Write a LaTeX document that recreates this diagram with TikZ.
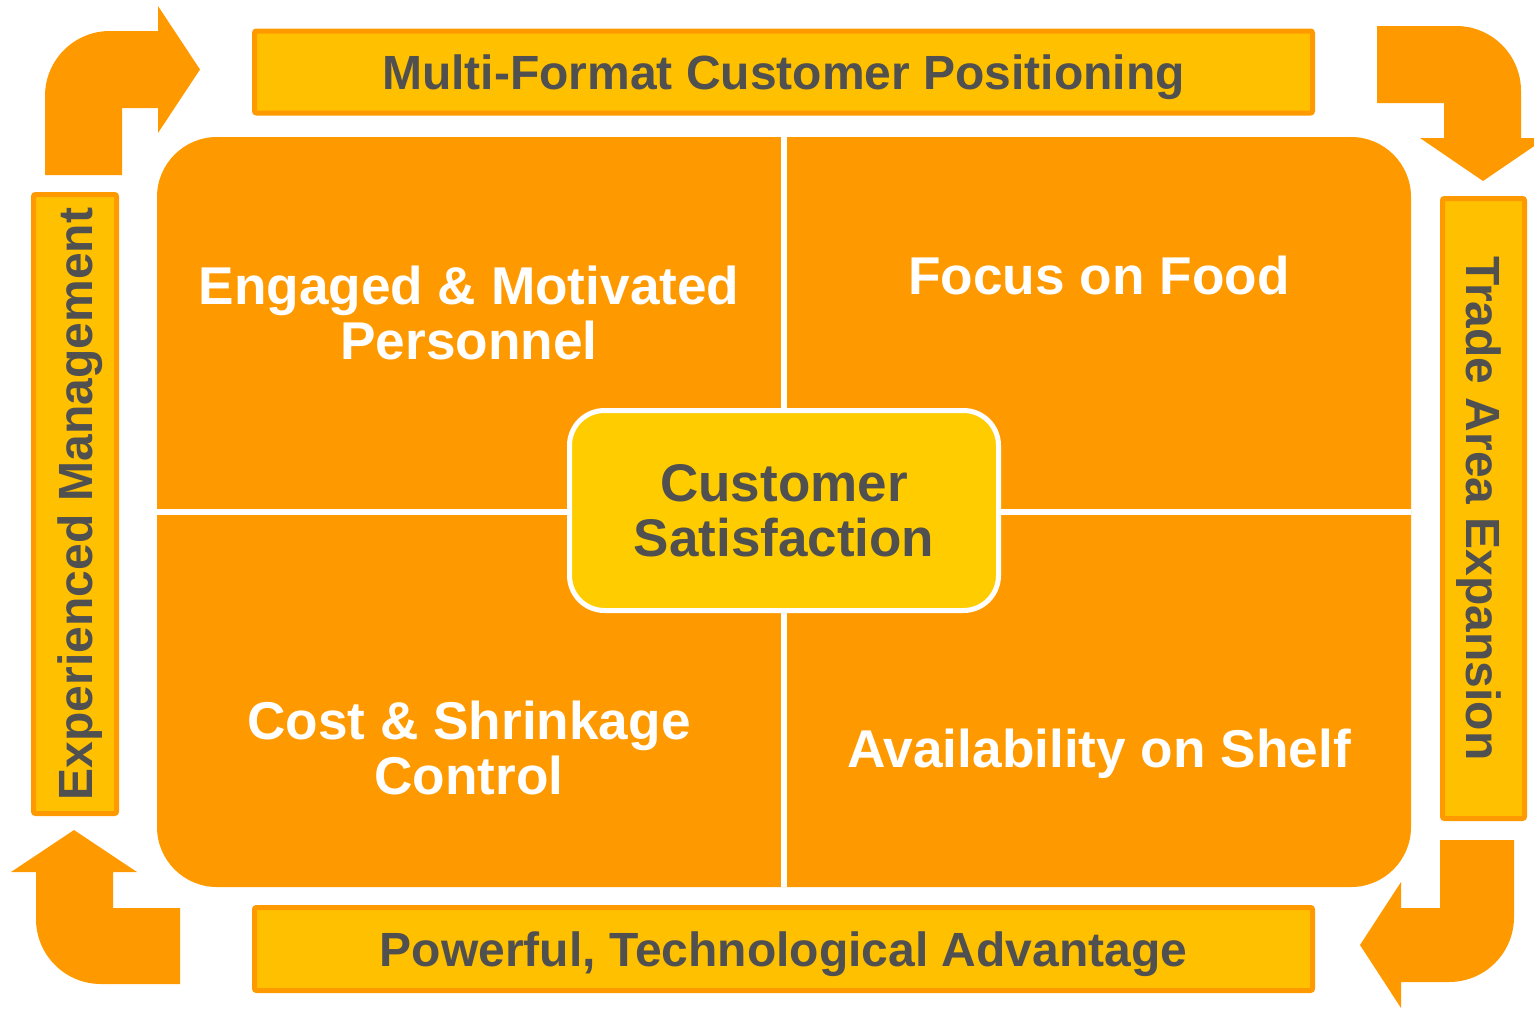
\documentclass[tikz,border=0pt]{standalone}
\usepackage{fontspec}
\setmainfont{Liberation Sans}
\definecolor{orangeA}{HTML}{FF9900}
\definecolor{gelbBanner}{HTML}{FFC000}
\definecolor{gelbMitte}{HTML}{FFCC00}
\definecolor{textgrau}{HTML}{505050}
\begin{document}
\begin{tikzpicture}[x=1pt, y=-1pt,
  banner/.style={fill=gelbBanner, draw=orangeA, line width=5pt, rounded corners=2pt,
    text=textgrau, font=\fontsize{48}{55}\selectfont\bfseries, text depth=0pt, inner sep=0pt},
  feld/.style={text=white, align=center, font=\fontsize{53.2}{55}\selectfont\bfseries},
  mitte/.style={fill=gelbMitte, draw=white, line width=5pt, rounded corners=35pt,
    text=textgrau, align=center, font=\fontsize{53}{55}\selectfont\bfseries,
    minimum width=429pt, minimum height=200pt},
  pfeil/.style={fill=orangeA}]
  % Rahmen
  \useasboundingbox (0,0) rectangle (1534,1009);
  % Eckpfeile
  \fill[pfeil] (45,175) -- (45,96) .. controls (45,60) and (74,31) .. (110,31) -- (158,31)
    -- (158,6) -- (200,69.5) -- (158,133) -- (158,108) -- (122,108) -- (122,175) -- cycle;
  \fill[pfeil] (1377,26) -- (1456,26) .. controls (1492,26) and (1521,55) .. (1521,91)
    -- (1521,138) -- (1546,138) -- (1483,181) -- (1420,138) -- (1444,138) -- (1444,103) -- (1377,103) -- cycle;
  \fill[pfeil] (180,984) -- (101,984) .. controls (65,984) and (36,955) .. (36,919)
    -- (36,872) -- (11,872) -- (74,830) -- (137,872) -- (113,872) -- (113,908) -- (180,908) -- cycle;
  \fill[pfeil] (1440,840) -- (1514,840) -- (1514,917) .. controls (1514,953) and (1485,982) .. (1449,982)
    -- (1401,982) -- (1401,1008) -- (1360,945) -- (1401,882) -- (1401,908) -- (1440,908) -- cycle;
  % Banner
  \node[banner, minimum width=1058pt, minimum height=82pt] (positionierung) at (783.5,72)
    {Multi-Format Customer Positioning};
  \node[banner, minimum width=1058pt, minimum height=83pt] (technologie) at (783.5,949)
    {Powerful, Technological Advantage};
  \node[banner, rotate=90, minimum width=619pt, minimum height=83pt] (management) at (75,504)
    {Experienced Management};
  \node[banner, rotate=-90, minimum width=620pt, minimum height=82pt] (expansion) at (1483.5,508.5)
    {Trade Area Expansion};
  % Quadranten
  \fill[orangeA, rounded corners=60pt] (157,137) rectangle (1411,887);
  \draw[white, line width=6pt] (784,137) -- (784,887);
  \draw[white, line width=6pt] (157,512) -- (1411,512);
  \node[feld] (personal) at (469,312.5) {Engaged \& Motivated\\Personnel};
  \node[feld] (food) at (1099,275) {Focus on Food};
  \node[feld] (kosten) at (469,747.5) {Cost \& Shrinkage\\Control};
  \node[feld] (regal) at (1099,753.5) {Availability on Shelf};
  % Mitte
  \node[mitte] (zufriedenheit) at (784,510.5) {Customer\\Satisfaction};
\end{tikzpicture}
\end{document}
